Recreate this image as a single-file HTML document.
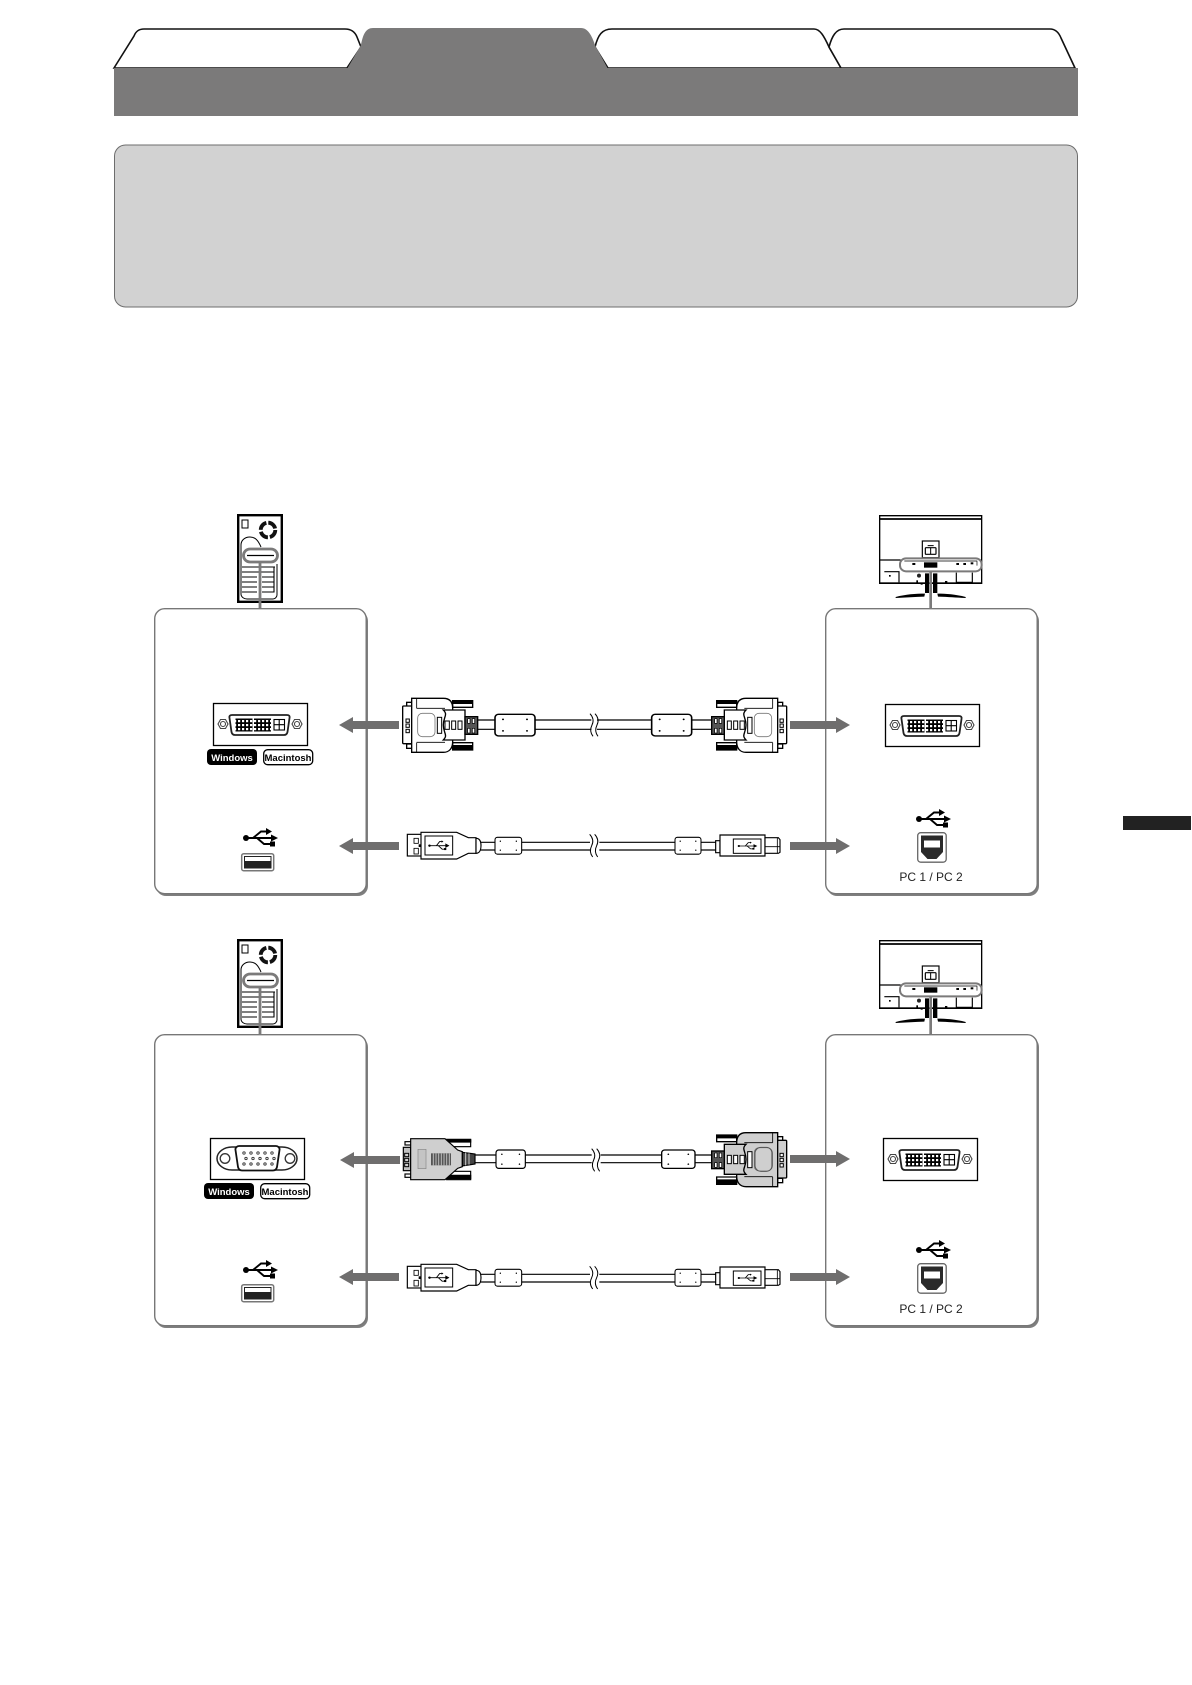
<!DOCTYPE html>
<html lang="en"><head><meta charset="utf-8"><title>Cable connection diagram</title>
<style>html,body{margin:0;padding:0;background:#fff}svg{display:block}text{font-family:"Liberation Sans",sans-serif}</style></head>
<body>
<svg xmlns="http://www.w3.org/2000/svg" width="1192" height="1685" viewBox="0 0 1192 1685">
<defs>
<pattern id="pins" width="4" height="4" patternUnits="userSpaceOnUse"><rect width="4" height="4" fill="#000"/><rect x="1" y="1" width="2.200" height="2.200" fill="#fff"/></pattern>

<g id="tower">
 <rect x="1.200" y="1.200" width="43.600" height="86.600" fill="#fff" stroke="#000" stroke-width="2.400"/>
 <rect x="5" y="6" width="6" height="8" fill="#fff" stroke="#000"/>
 <circle cx="31" cy="16" r="7.300" fill="none" stroke="#111" stroke-width="3.800" stroke-dasharray="9.500 2"/>
 <circle cx="31" cy="16" r="4.500" fill="#fff"/>
 <path d="M24 33C21 26 18 23 13 23C7 23 4 27 4 31V80C4 83 7 85 10 85H36C38 85 40 83 40 81V50" fill="none" stroke="#000"/>
 <g stroke="#000" stroke-width="1.100" fill="none">
  <path d="M5 53H38M5 58H37V53M5 63H20M25 63H37V58M5 68H20M25 68H37V63M5 73H20M25 73H37V68M5 78H20M25 78H37V73"/>
 </g>
 <rect x="6.500" y="35" width="34" height="13" rx="6.500" fill="#fff" stroke="#7b7a7a" stroke-width="2.800"/>
 <path d="M10 41.500H37" stroke="#000" stroke-width="1.200"/>
</g>

<g id="monitor" transform="scale(.3333)">
 <g fill="none" stroke="#000" stroke-width="3.500">
  <path d="M32 235V32H338V235H32Z" fill="#fff" stroke-width="4"/>
  <path d="M32 42H338" stroke-width="5"/>
  <rect x="160" y="108" width="50" height="50"/>
  <rect x="169" y="128" width="32" height="20" rx="2"/>
  <path d="M185 128V148M176 122H194" stroke-width="3"/>
  <path d="M32 165H95M335 165H338M46 200H90V232M262 203V232H310V203"/>
 </g>
 <rect x="165" y="172" width="40" height="16"/>
 <rect x="130" y="174" width="9" height="6"/><rect x="262" y="174" width="8" height="6"/><rect x="283" y="174" width="8" height="6"/><rect x="305" y="172" width="8" height="6"/>
 <rect x="60" y="210" width="5" height="5"/><rect x="228" y="228" width="7" height="5"/>
 <circle cx="150" cy="212" r="6" fill="#222"/><rect x="142" y="226" width="5" height="7"/><rect x="155" y="234" width="6" height="5"/>
 <rect x="33" y="232" width="304" height="5"/>
 <path d="M168 205H180V264H168ZM192 205H205V264H192Z"/>
 <path d="M80 276C110 268 140 266 168 266L166 275C140 276 110 278 80 279ZM290 276C260 268 230 266 205 266L207 275C240 276 260 278 290 279Z"/>
 <rect x="93" y="160" width="245" height="39" rx="18" fill="none" stroke="#7b7a7a" stroke-width="6"/>
 <path d="M106 168H324V182" fill="none" stroke="#000" stroke-width="2"/>
 <path d="M185 199V312" stroke="#7b7a7a" stroke-width="8"/>
</g>

<g id="dvi">
 <rect x=".5" y=".5" width="94" height="42" fill="#fff" stroke="#000" stroke-width="1.300"/>
 <g fill="#fff" stroke="#444" stroke-width="1.100">
  <path d="M5 21 7.500 16.500H12.500L15 21 12.500 25.500H7.500Z"/><circle cx="10" cy="21" r="2.500"/>
  <path d="M79 21 81.500 16.500H86.500L89 21 86.500 25.500H81.500Z"/><circle cx="84" cy="21" r="2.500"/>
 </g>
 <path d="M19 12H74C76 12 77 13 76.500 15L74.500 29C74 31 73 32 71 32H22C20 32 19 31 18.500 29L16.500 15C16 13 17 12 19 12Z" fill="#fff" stroke="#222" stroke-width="1.800"/>
 <rect x="22.500" y="15.500" width="17" height="13" fill="url(#pins)"/><rect x="41" y="15.500" width="17" height="13" fill="url(#pins)"/>
 <rect x="61" y="16.500" width="10.500" height="10.500" fill="#fff" stroke="#000" stroke-width="1.100"/><path d="M66.200 16.500V27M61 21.700H71.500" stroke="#000" stroke-width="1.100"/>
</g>

<g id="vga">
 <rect x=".5" y=".5" width="94" height="41" fill="#fff" stroke="#000" stroke-width="1.300"/>
 <path d="M22 9C14 9 7 14 7 20.500S14 32 22 32H72C80 32 87 27 87 20.500S80 9 72 9Z" fill="#fff" stroke="#222" stroke-width="1.500"/>
 <circle cx="15" cy="20.500" r="4.800" fill="#fff" stroke="#333" stroke-width="1.300"/><circle cx="80" cy="20.500" r="4.800" fill="#fff" stroke="#333" stroke-width="1.300"/>
 <path d="M29 8H66C68 8 70 10 69.500 12L67 29C66.500 31 65 32.500 63 32.500H32C30 32.500 28.500 31 28 29L25.500 12C25 10 27 8 29 8Z" fill="#fff" stroke="#111" stroke-width="1.800"/>
 <g fill="#fff" stroke="#333" stroke-width=".9">
  <circle cx="34" cy="15" r="1.200"/><circle cx="41" cy="15" r="1.200"/><circle cx="48" cy="15" r="1.200"/><circle cx="55" cy="15" r="1.200"/><circle cx="62" cy="15" r="1.200"/>
  <circle cx="36" cy="20.500" r="1.200"/><circle cx="43" cy="20.500" r="1.200"/><circle cx="50" cy="20.500" r="1.200"/><circle cx="57" cy="20.500" r="1.200"/><circle cx="64" cy="20.500" r="1.200"/>
  <circle cx="34" cy="26" r="1.200"/><circle cx="41" cy="26" r="1.200"/><circle cx="48" cy="26" r="1.200"/><circle cx="55" cy="26" r="1.200"/><circle cx="62" cy="26" r="1.200"/>
 </g>
</g>

<g id="usbsym">
 <circle cx="-14" cy="0" r="3"/>
 <path d="M-14 0H12M-7 0 1-6.500H7M-3 0 4 6H11" fill="none" stroke="#000" stroke-width="1.900"/>
 <path d="M18 0 11-3.500V3.500ZM6-10 12-6.500 6-3ZM10 3.500H15V8.500H10Z"/>
</g>

<g id="usba">
 <rect x=".7" y=".7" width="32" height="17" rx="2" fill="#fff" stroke="#777" stroke-width="1.500"/>
 <rect x="3.500" y="3.500" width="26.500" height="11.500" fill="#fff" stroke="#222"/>
 <rect x="3.500" y="8" width="26.500" height="7" fill="#222"/>
</g>

<g id="usbb">
 <rect x=".7" y=".7" width="28.500" height="29.500" rx="3" fill="#fff" stroke="#666" stroke-width="1.300"/>
 <path d="M4 3.500H26V20L19.500 27H10.500L4 20Z" fill="#2a2a2a"/>
 <rect x="7" y="8.500" width="16" height="7" fill="#fff"/>
</g>

<g id="arrowL"><path d="M0 0 14-8V-4H60V4H14V8Z" fill="#6f6e6e"/></g>
<g id="arrowR"><path d="M60 0 46-8V-4H0V4H46V8Z" fill="#6f6e6e"/></g>

<g id="smallusb">
 <path d="M-30 0H30" stroke="#000" stroke-width="3"/>
 <path d="M33 0 20-8V8Z"/><path d="M-8 0 2-14H8M-2 0 10 12H18" fill="none" stroke="#000" stroke-width="3"/>
 <rect x="16" y="8" width="7" height="7"/><path d="M8-18 14-14 8-10Z"/><circle cx="-30" cy="0" r="4"/>
</g>

<g id="dviconn">
 <g stroke="#000" stroke-width="4" fill="var(--f,#fff)">
  <rect x="50" y="97" width="15" height="12" fill="#fff"/><rect x="50" y="222" width="15" height="13" fill="#fff"/>
  <rect x="38" y="108" width="28" height="113" rx="3"/>
  <path d="M188 92H248V112H188ZM188 218H248V240H188Z" fill="#fff"/>
  <path d="M190 93H246V100H190ZM190 227H246V238H190Z" fill="#000"/>
  <path d="M65 85H160C178 85 188 95 188 115V215C188 235 178 247 160 247H65Z"/>
  <path d="M80 85V115M80 218V247" fill="none" stroke-width="2.500"/>
  <path d="M80 115H165M80 217H165" fill="none" stroke-width="2.500"/>
  <path d="M160 120H225V210H160C175 195 160 190 160 165C160 140 175 135 160 120Z"/>
  <rect x="225" y="140" width="38" height="53" fill="#555"/>
 </g>
 <g fill="#fff" stroke="#000" stroke-width="2"><rect x="233" y="146" width="7" height="14"/><rect x="247" y="146" width="7" height="14"/><rect x="233" y="175" width="7" height="14"/><rect x="247" y="175" width="7" height="14"/></g>
 <rect x="83" y="130" width="52" height="70" rx="14" fill="none" stroke="#777" stroke-width="2.500"/>
 <g fill="#fff" stroke="#000" stroke-width="3"><rect x="142" y="142" width="13" height="48"/><rect x="165" y="153" width="13" height="25"/><rect x="185" y="153" width="12" height="25"/><rect x="204" y="153" width="12" height="25"/>
  <rect x="48" y="147" width="10" height="10"/><rect x="48" y="162" width="10" height="10"/><rect x="48" y="178" width="10" height="10"/></g>
</g>

<g id="ferrite">
 <rect x="0" y="0" width="100" height="60" rx="9" fill="#fff" stroke="#000" stroke-width="4"/>
 <circle cx="20" cy="14" r="2.500"/><circle cx="80" cy="14" r="2.500"/><circle cx="20" cy="46" r="2.500"/><circle cx="80" cy="46" r="2.500"/>
</g>

<g id="breakmark">
 <path d="M-8-22H9V22H-8Z" fill="#fff"/>
 <path d="M-12-34C-1-22-1-10-6 0S-12 22-3 34M3-34C14-22 14-10 9 0S3 22 12 34" fill="none" stroke="#000" stroke-width="3"/>
</g>

<g id="usbrow">
 <path d="M270-10H315M270 13H315M395-10H600M395 13H600M628-10H855M628 13H855M933-10H978M933 13H978" stroke="#000" stroke-width="3.500" fill="none"/>
 <g transform="translate(315-25) scale(.8 .84)"><use href="#ferrite"/></g>
 <g transform="translate(855-25) scale(.78 .84)"><use href="#ferrite"/></g>
 <use href="#breakmark" x="611" y="0"/>
 <g fill="#fff" stroke="#000" stroke-width="3.500">
  <rect x="52" y="-34" width="42" height="65"/><rect x="72" y="-22" width="13" height="15" stroke-width="2.500"/><rect x="72" y="8" width="13" height="17" stroke-width="2.500"/>
  <path d="M93-40H200L235-24H258V23H235L200 40H93Z"/>
  <rect x="105" y="-29" width="83" height="57" stroke-width="3"/>
  <path d="M258-22C270-22 273-10 273 0S270 23 258 23Z"/>
 </g>
 <rect x="86" y="-4" width="7" height="8"/>
 <use href="#smallusb" transform="translate(147 0) scale(.95 .88)"/>
 <g fill="#fff" stroke="#000" stroke-width="3.500">
  <path d="M977-15H990V21H977Z"/>
  <path d="M990-32H1125V31H990Z"/>
  <rect x="1030" y="-20" width="83" height="43" stroke-width="3"/>
  <path d="M1125-24H1165L1170-18V20L1165 23H1125Z"/>
  <path d="M1125 3H1170M1162-24V23" stroke-width="2.500"/>
 </g>
 <use href="#smallusb" transform="translate(1073 1) scale(.88 .72)"/>
</g>
</defs>

<rect width="1192" height="1685" fill="#fff"/>

<!-- header tabs -->
<g fill="#fff" stroke="#111" stroke-width="1.600">
 <path d="M114 68 134 36C136 31 139 29 144 29H345C351 29 355 32 357 37L361 47 347 68Z"/>
 <path d="M595 47C598 35 602 29 612 29H814C820 29 824 36 829 47L841 68H608Z"/>
 <path d="M829 47C832 36 836 29 844 29H1050C1056 29 1059 33 1061 38L1075 68H841Z"/>
</g>
<path d="M347 69 361 45C363 34 366 28 373 28H581C588 28 592 36 595 45L608 69Z" fill="#7b7a7a"/>
<rect x="114" y="68" width="964" height="48" fill="#7b7a7a"/>

<!-- gray note box -->
<rect x="114.500" y="145" width="963" height="162" rx="11" fill="#d2d2d2" stroke="#6d6d6d" stroke-width="1"/>

<!-- right side tab -->
<rect x="1123" y="816" width="68" height="14" fill="#222"/>

<!-- upper section -->
<rect x="156" y="611" width="212" height="285" rx="10" fill="#7f7f7f"/>
<rect x="154.700" y="608.700" width="211.500" height="285" rx="10" fill="#fff" stroke="#777" stroke-width="1.400"/>
<rect x="827" y="611" width="212" height="285" rx="10" fill="#7f7f7f"/>
<rect x="825.700" y="608.700" width="211.500" height="285" rx="10" fill="#fff" stroke="#777" stroke-width="1.400"/>

<use href="#tower" x="237" y="514"/>
<path d="M260 562V608" stroke="#7b7a7a" stroke-width="2.800"/>
<use href="#monitor" x="869" y="505"/>

<use href="#dvi" x="213" y="703"/>
<rect x="207" y="749" width="50" height="16" rx="4" fill="#000"/>
<text x="232" y="761" text-anchor="middle" font-size="9.500" font-weight="700" fill="#fff">Windows</text>
<rect x="263.700" y="749.700" width="49" height="15" rx="4" fill="#fff" stroke="#000" stroke-width="1.300"/>
<text x="288" y="761" text-anchor="middle" font-size="9.500" font-weight="700" fill="#000">Macintosh</text>
<use href="#usbsym" x="260" y="838"/>
<use href="#usba" x="241" y="853"/>

<use href="#dvi" x="885" y="704"/>
<use href="#usbsym" x="933" y="819"/>
<use href="#usbb" x="917" y="832"/>
<text x="931" y="881" text-anchor="middle" font-size="12" fill="#222">PC 1 / PC 2</text>

<use href="#arrowL" x="339" y="725"/><use href="#arrowL" x="339" y="846"/>
<use href="#arrowR" x="790" y="725"/><use href="#arrowR" x="790" y="846"/>

<g transform="translate(390 670) scale(.33333)">
 <path d="M262 150H315M262 178H315M435 150H605M435 178H605M620 150H785M620 178H785M905 150H965M905 178H965" stroke="#000" stroke-width="3.500" fill="none"/>
 <use href="#dviconn"/>
 <use href="#dviconn" transform="translate(1228 0) scale(-1 1)"/>
 <g transform="translate(315 133) scale(1.200 1.080)"><use href="#ferrite"/></g>
 <g transform="translate(785 133) scale(1.200 1.080)"><use href="#ferrite"/></g>
 <use href="#breakmark" x="612" y="165"/>
 <use href="#usbrow" y="527"/>
</g>

<!-- lower section -->
<rect x="156" y="1037" width="212" height="291" rx="10" fill="#7f7f7f"/>
<rect x="154.700" y="1034.700" width="211.500" height="291" rx="10" fill="#fff" stroke="#777" stroke-width="1.400"/>
<rect x="827" y="1037" width="212" height="291" rx="10" fill="#7f7f7f"/>
<rect x="825.700" y="1034.700" width="211.500" height="291" rx="10" fill="#fff" stroke="#777" stroke-width="1.400"/>

<use href="#tower" x="237" y="939"/>
<path d="M260 987V1034" stroke="#7b7a7a" stroke-width="2.800"/>
<use href="#monitor" x="869" y="930"/>

<use href="#vga" x="210" y="1138"/>
<rect x="204" y="1183" width="50" height="16" rx="4" fill="#000"/>
<text x="229" y="1195" text-anchor="middle" font-size="9.500" font-weight="700" fill="#fff">Windows</text>
<rect x="260.700" y="1183.700" width="49" height="15" rx="4" fill="#fff" stroke="#000" stroke-width="1.300"/>
<text x="285" y="1195" text-anchor="middle" font-size="9.500" font-weight="700" fill="#000">Macintosh</text>
<use href="#usbsym" x="260" y="1270"/>
<use href="#usba" x="241" y="1284"/>

<use href="#dvi" x="883" y="1138"/>
<use href="#usbsym" x="933" y="1250"/>
<use href="#usbb" x="917" y="1263"/>
<text x="931" y="1313" text-anchor="middle" font-size="12" fill="#222">PC 1 / PC 2</text>

<use href="#arrowL" x="340" y="1160"/><use href="#arrowL" x="339" y="1277"/>
<use href="#arrowR" x="790" y="1159"/><use href="#arrowR" x="790" y="1277"/>

<g transform="translate(390 1100) scale(.33333)">
 <path d="M255 165H318M255 188H318M405 165H605M405 188H605M632 165H815M632 188H815M915 165H965M915 188H965" stroke="#000" stroke-width="3.500" fill="none"/>
 <!-- VGA plug -->
 <g stroke="#000" stroke-width="3.500">
  <rect x="170" y="118" width="72" height="22" fill="#fff"/><rect x="170" y="214" width="72" height="25" fill="#fff"/>
  <path d="M172 120H242V126H172ZM172 226H242V236H172Z"/>
  <rect x="45" y="125" width="18" height="10" fill="#fff"/><rect x="45" y="222" width="18" height="10" fill="#fff"/>
  <rect x="40" y="142" width="22" height="70" fill="#c0c0c0"/>
  <path d="M62 116H165L203 150L217 155V200L203 205L165 239H62Z" fill="#cfcfcf"/>
  <path d="M217 157L255 162V192L217 198Z" fill="#444"/>
  <path d="M227 158V196M237 160V194" stroke="#ccc" stroke-width="3"/>
  <rect x="84" y="148" width="24" height="58" fill="#c4c4c4" stroke="#888" stroke-width="2"/>
  <rect x="123" y="160" width="60" height="36" fill="#555" stroke="none"/>
  <path d="M130 160V196M138 160V196M146 160V196M154 160V196M162 160V196M170 160V196M178 160V196" stroke="#bbb" stroke-width="3"/>
  <g fill="#cfcfcf" stroke-width="3"><rect x="44" y="160" width="12" height="10"/><rect x="44" y="175" width="12" height="10"/><rect x="44" y="190" width="12" height="10"/></g>
 </g>
 <g transform="translate(318 150) scale(.880 .920)"><use href="#ferrite"/></g>
 <g transform="translate(815 150) scale(1 .920)"><use href="#ferrite"/></g>
 <use href="#breakmark" x="617" y="180"/>
 <g transform="translate(1228 13)"><g transform="scale(-1 1)" style="--f:#cfcfcf"><use href="#dviconn"/></g></g>
 <rect x="1095" y="142" width="52" height="72" rx="18" fill="none" stroke="#555" stroke-width="3"/>
 <use href="#usbrow" y="533"/>
</g>
</svg>
</body></html>
